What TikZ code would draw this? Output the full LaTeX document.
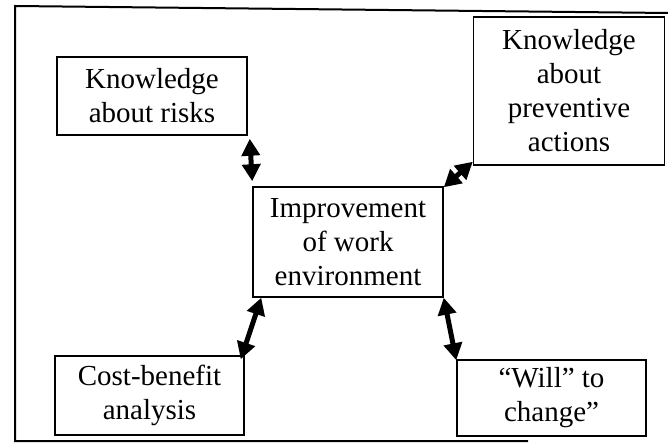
\documentclass[tikz,border=0pt]{standalone}
\usepackage{fontspec}
\setmainfont{Liberation Serif}
\usetikzlibrary{arrows.meta}
\begin{document}
\begin{tikzpicture}[x=1pt,y=-1pt,
  box/.style={draw, line width=1.5pt, inner sep=0pt, align=center,
    font=\fontsize{29}{34}\selectfont},
  link/.style={line width=5pt,
    {Triangle[length=17pt,width=18pt]}-{Triangle[length=17pt,width=18pt]}},
  frame/.style={line width=2pt}]
\useasboundingbox (0,0) rectangle (668,443);
\draw[frame] (668,13) -- (15,6) -- (15,441) -- (528,441);
\node[box, minimum width=190pt, minimum height=78pt] (kar) at (152,96)
  {Knowledge\\about risks};
\node[box, minimum width=191pt, minimum height=148pt] (kapa) at (569,91)
  {Knowledge\\about\\preventive\\actions};
\node[box, minimum width=190pt, minimum height=110pt] (ctr) at (348,242)
  {Improvement\\of work\\environment};
\node[box, minimum width=189pt, minimum height=79pt] (cost) at (149.5,395.5)
  {Cost-benefit\\analysis};
\node[box, minimum width=189pt, minimum height=76pt] (will) at (551.5,398)
  {“Will” to\\change”};
\draw[link] ([shift={(2,3)}]kar.south east) -- ([shift={(0,-5)}]ctr.north west);
\draw[link] ([shift={(0,-4)}]kapa.south west) -- ([shift={(0,1)}]ctr.north east);
\draw[link] ([shift={(9,0)}]ctr.south west) -- ([shift={(-4,4)}]cost.north east);
\draw[link] (ctr.south east) -- ([shift={(0,1)}]will.north west);
\end{tikzpicture}
\end{document}
